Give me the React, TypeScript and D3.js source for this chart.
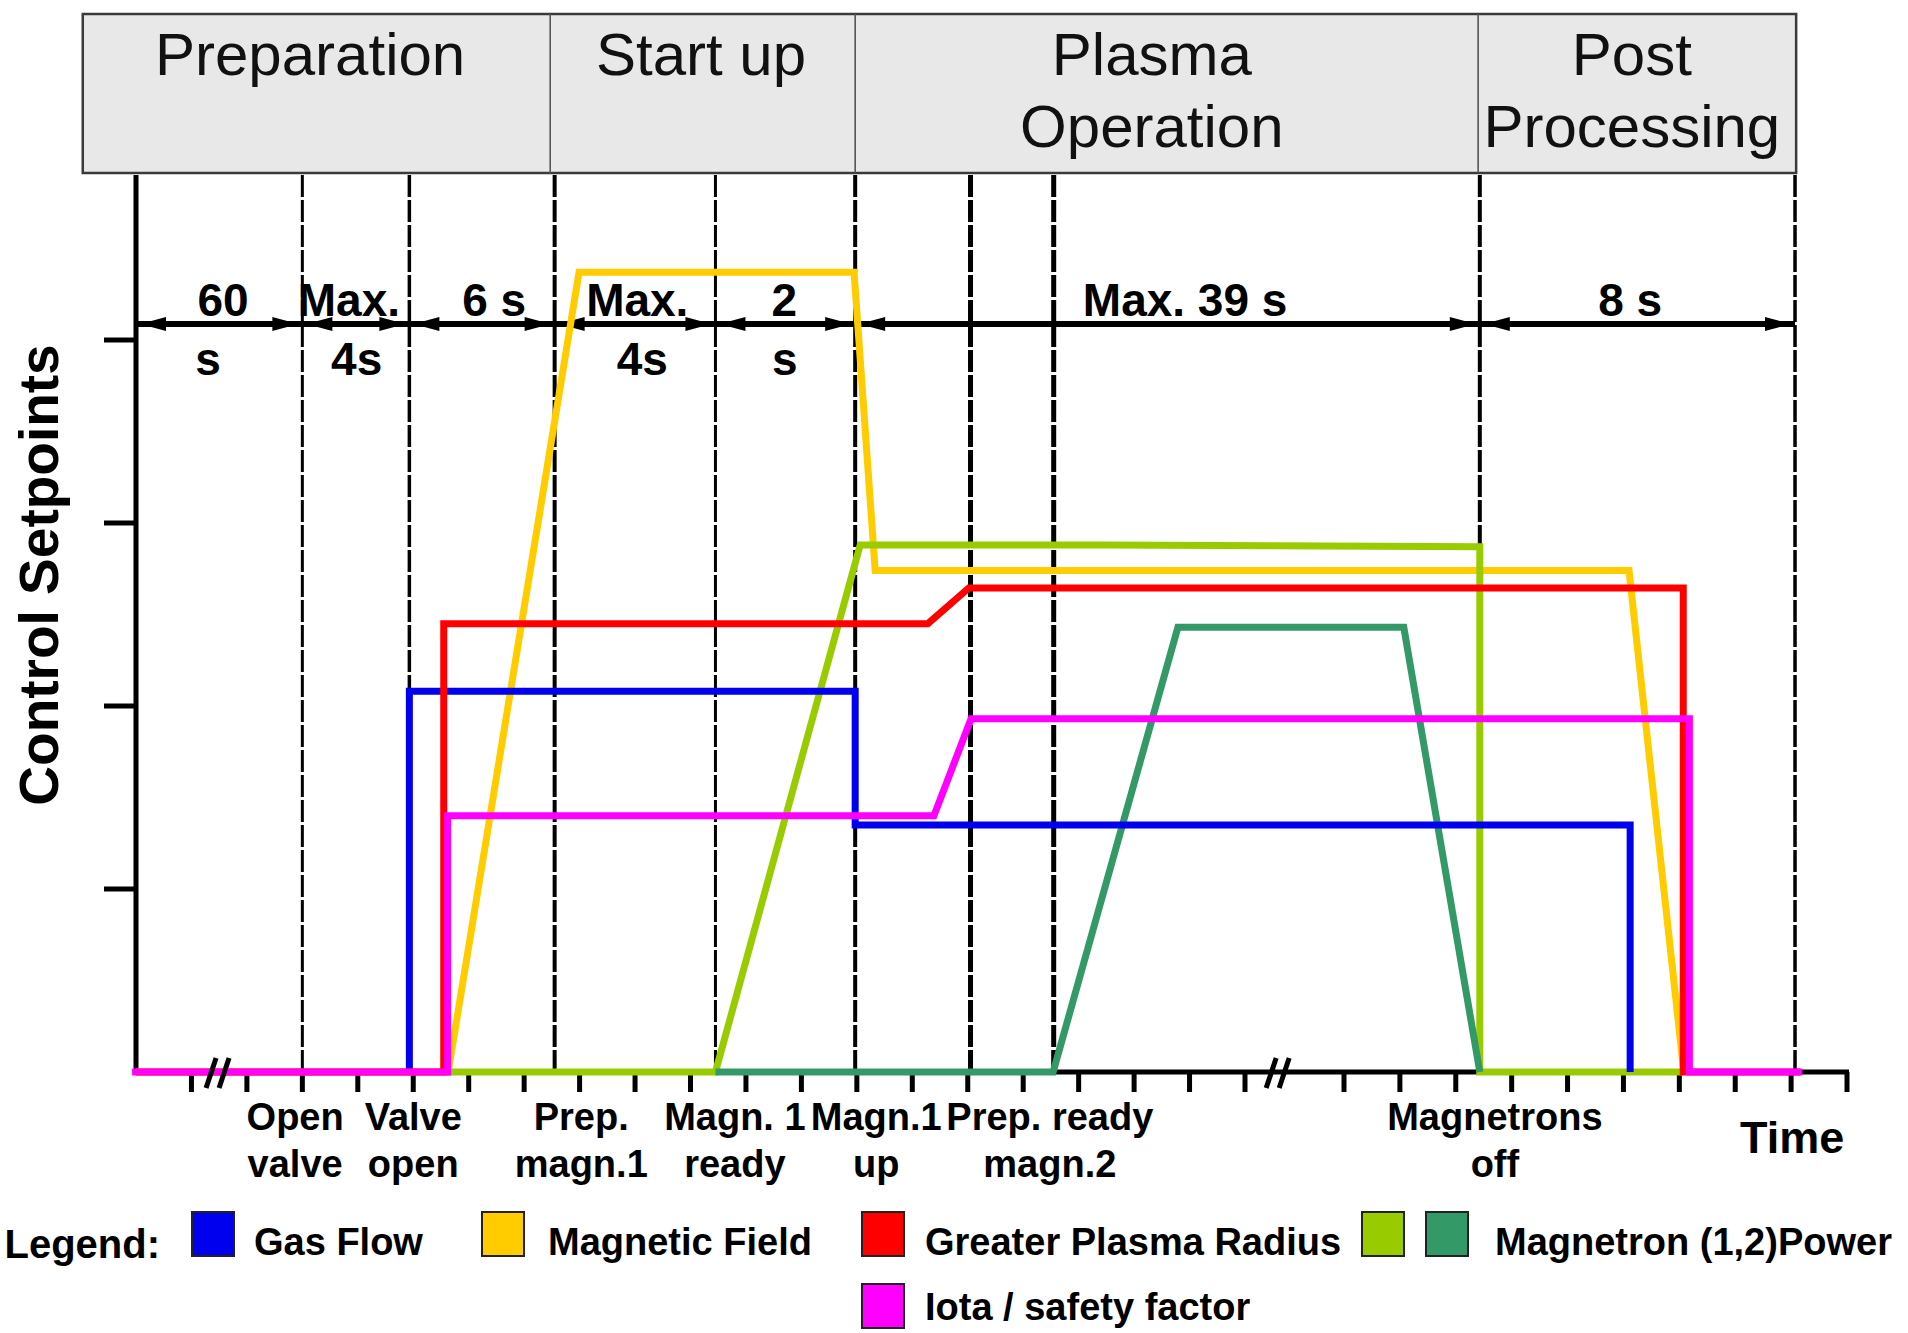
import React from "react";
import * as d3 from "d3";

// ---------- DATA (x in tick units along the time axis, y in setpoint units) ----------
const phaseNames = [["Preparation"], ["Start up"], ["Plasma", "Operation"], ["Post", "Processing"]];
const phaseBounds = [-0.96, 7.47, 12.97, 24.4, 30.09];
const phaseLabelK = [3.14, 10.19, 18.32, 27.15];

const yTicks = [1, 2, 3, 4];
const xTicks = [1, 2, 3, 4, 5, 6, 7, 8, 9, 10, 11, 12, 13, 14, 15, 16, 17, 18, 19, 20, 22, 23, 24, 25, 26, 27, 28, 29, 30, 31];
const axisBreaks = [1.48, 20.67];

const eventLinesK = [3, 4.93, 7.55, 10.45, 12.97, 15.05, 16.55, 24.43, 30.07];
const durationBounds = [0, 3, 4.93, 7.55, 10.45, 12.97, 24.43, 30.07];
const durationTexts = ["60", "s", "Max.", "4s", "6 s", "Max.", "4s", "2", "s", "Max. 39 s", "8 s"];
const durationK = [1.57, 1.3, 3.84, 3.98, 6.46, 9.04, 9.13, 11.69, 11.7, 18.92, 27.12];
const durationRow = [0, 1, 0, 1, 0, 0, 1, 0, 1, 0, 0];

const eventTexts = [
  ["Open", "valve"],
  ["Valve", "open"],
  ["Prep.", "magn.1"],
  ["Magn. 1", "ready"],
  ["Magn.1", "up"],
  ["Prep. ready", "magn.2"],
  ["Magnetrons", "off"],
];
const eventLabelK = [2.87, 5.0, 8.03, 10.8, 13.35, 16.48, 24.7];
const timeLabelK = 30.02;

const gasFlow = [[4.93, 0], [4.93, 2.08], [12.97, 2.08], [12.97, 1.35], [27.12, 1.35], [27.12, 0]];
const magneticField = [[0, 0], [5.63, 0], [7.99, 4.37], [12.95, 4.37], [13.33, 2.74], [27.1, 2.74], [28.08, 0]];
const plasmaRadius = [[0, 0], [5.55, 0], [5.55, 2.45], [14.28, 2.45], [15.02, 2.645], [28.07, 2.645], [28.07, 0], [30.16, 0]];
const magnetron1 = [[5.62, 0], [10.45, 0], [13.06, 2.88], [17.5, 2.88], [24.43, 2.87], [24.43, 0], [28.07, 0]];
const magnetron2 = [[10.45, 0], [16.54, 0], [18.79, 2.43], [23.07, 2.43], [24.43, 0]];
const iota = [[-0.07, 0], [5.62, 0], [5.62, 1.4], [14.39, 1.4], [15.06, 1.93], [28.18, 1.93], [28.18, 0], [30.2, 0]];

const seriesNames = ["Magnetic Field", "Magnetron 1 Power", "Magnetron 2 Power", "Gas Flow", "Greater Plasma Radius", "Iota / safety factor"];
const seriesData = [magneticField, magnetron1, magnetron2, gasFlow, plasmaRadius, iota];
const seriesColors = ["#ffcc00", "#99cc00", "#339966", "#0000ee", "#ff0000", "#ff00ff"];

const legendLabels = ["Gas Flow", "Magnetic Field", "Greater Plasma Radius", "Magnetron (1,2)Power", "Iota / safety factor"];
const legendColors = [["#0000ee"], ["#ffcc00"], ["#ff0000"], ["#99cc00", "#339966"], ["#ff00ff"]];

// ---------- LAYOUT ----------
const W = 1908;
const H = 1333;
const FONT = "'Liberation Sans', Arial, Helvetica, sans-serif";
const headerTop = 14;
const headerBottom = 173;
const plotTop = 175;
const durationY = 324;
const durationRowY = [316, 375];
const eventRowY = [1130, 1177];
const vlineWidths = [3, 3.5, 4, 3, 4, 5, 5, 4, 3.5];
const legendSquareX = [192, 482, 862, 1362, 862];
const legendTextX = [254, 548, 925, 1495, 925];
const legendRow = [0, 0, 0, 0, 1];
const legendRowTop = [1212, 1284];
const legendRowBase = [1255, 1320];

export default function App() {
  const x = d3.scaleLinear().domain([0, 20, 22, 31]).range([136, 1245, 1344, 1847]);
  const y = d3.scaleLinear().domain([0, 4]).range([1072, 340]);
  const line = d3
    .line<number[]>()
    .x((d) => x(d[0]))
    .y((d) => y(d[1]));

  const axisY = y(0);

  const arrowHead = (tipX: number, dir: number) => {
    const len = 26;
    const hw = 7;
    const bx = tipX + dir * len;
    return `M${tipX},${durationY} L${bx},${durationY - hw} L${bx},${durationY + hw} Z`;
  };

  return (
    <svg
      width={W}
      height={H}
      viewBox={`0 0 ${W} ${H}`}
      style={{ position: "absolute", left: 0, top: 0, background: "#fff" }}
      fontFamily={FONT}
    >
      <rect x={0} y={0} width={W} height={H} fill="#fff" />

      {/* Phase header */}
      <rect
        x={x(phaseBounds[0])}
        y={headerTop}
        width={x(phaseBounds[phaseBounds.length - 1]) - x(phaseBounds[0])}
        height={headerBottom - headerTop}
        fill="#e8e8e8"
        stroke="#3a3a3a"
        strokeWidth={2.5}
      />
      {phaseBounds.slice(1, -1).map((k, i) => (
        <line key={"pd" + i} x1={x(k)} x2={x(k)} y1={headerTop} y2={headerBottom} stroke="#555" strokeWidth={1.6} />
      ))}
      {phaseNames.map((lines, i) => (
        <text key={"pn" + i} textAnchor="middle" fontSize={60} fill="#111">
          {lines.map((t, j) => (
            <tspan key={j} x={x(phaseLabelK[i])} y={75 + j * 72}>
              {t}
            </tspan>
          ))}
        </text>
      ))}

      {/* Event (dashed) vertical lines */}
      {eventLinesK.map((k, i) => (
        <line
          key={"vl" + i}
          x1={x(k)}
          x2={x(k)}
          y1={plotTop}
          y2={axisY}
          stroke="#000"
          strokeWidth={vlineWidths[i]}
          strokeDasharray="22 3"
        />
      ))}

      {/* Y axis */}
      <line x1={x(0)} x2={x(0)} y1={plotTop} y2={axisY + 2} stroke="#000" strokeWidth={5} />
      {yTicks.map((t) => (
        <line key={"yt" + t} x1={104} x2={x(0)} y1={y(t)} y2={y(t)} stroke="#000" strokeWidth={5} />
      ))}
      <text
        transform={`translate(58,575) rotate(-90)`}
        textAnchor="middle"
        fontSize={55}
        fontWeight="bold"
        fill="#000"
      >
        Control Setpoints
      </text>

      {/* Duration arrows */}
      <line
        x1={x(durationBounds[0])}
        x2={x(durationBounds[durationBounds.length - 1])}
        y1={durationY}
        y2={durationY}
        stroke="#000"
        strokeWidth={6}
      />
      {durationBounds.slice(0, -1).map((k, i) => (
        <g key={"ar" + i}>
          <path d={arrowHead(x(k) + 4, 1)} fill="#000" />
          <path d={arrowHead(x(durationBounds[i + 1]) - 4, -1)} fill="#000" />
        </g>
      ))}
      {durationTexts.map((t, i) => (
        <text
          key={"dt" + i}
          x={x(durationK[i])}
          y={durationRowY[durationRow[i]]}
          textAnchor="middle"
          fontSize={46}
          fontWeight="bold"
          fill="#000"
        >
          {t}
        </text>
      ))}

      {/* X axis */}
      <line x1={x(0)} x2={x(31) + 2} y1={axisY} y2={axisY} stroke="#000" strokeWidth={5} />
      {xTicks.map((k) => (
        <line key={"xt" + k} x1={x(k)} x2={x(k)} y1={axisY} y2={axisY + 20} stroke="#000" strokeWidth={5} />
      ))}

      {/* Series */}
      {seriesData.map((pts, i) => (
        <path
          key={"s" + i}
          d={line(pts as number[][]) || ""}
          fill="none"
          stroke={seriesColors[i]}
          strokeWidth={7}
          strokeLinejoin="miter"
          strokeLinecap="butt"
        >
          <title>{seriesNames[i]}</title>
        </path>
      ))}

      {/* Axis breaks */}
      {axisBreaks.map((k, i) => {
        const cx = x(k);
        return (
          <g key={"br" + i} stroke="#000" strokeWidth={5}>
            <line x1={cx - 12} y1={axisY + 16} x2={cx - 2} y2={axisY - 14} />
            <line x1={cx + 1} y1={axisY + 16} x2={cx + 11} y2={axisY - 14} />
          </g>
        );
      })}

      {/* Event labels */}
      {eventTexts.map((lines, i) =>
        lines.map((t, j) => (
          <text
            key={"el" + i + "-" + j}
            x={x(eventLabelK[i])}
            y={eventRowY[j]}
            textAnchor="middle"
            fontSize={38}
            fontWeight="bold"
            fill="#000"
          >
            {t}
          </text>
        ))
      )}
      <text x={x(timeLabelK)} y={1153} textAnchor="middle" fontSize={45} fontWeight="bold" fill="#000">
        Time
      </text>

      {/* Legend */}
      <text x={160} y={1258} textAnchor="end" fontSize={40} fontWeight="bold" fill="#000">
        Legend:
      </text>
      {legendLabels.map((label, i) => (
        <g key={"lg" + i}>
          {legendColors[i].map((c, j) => (
            <rect
              key={j}
              x={legendSquareX[i] + j * 64}
              y={legendRowTop[legendRow[i]]}
              width={42}
              height={44}
              fill={c}
              stroke="#222"
              strokeWidth={2}
            />
          ))}
          <text
            x={legendTextX[i]}
            y={legendRowBase[legendRow[i]]}
            fontSize={38}
            fontWeight="bold"
            fill="#000"
          >
            {label}
          </text>
        </g>
      ))}
    </svg>
  );
}
